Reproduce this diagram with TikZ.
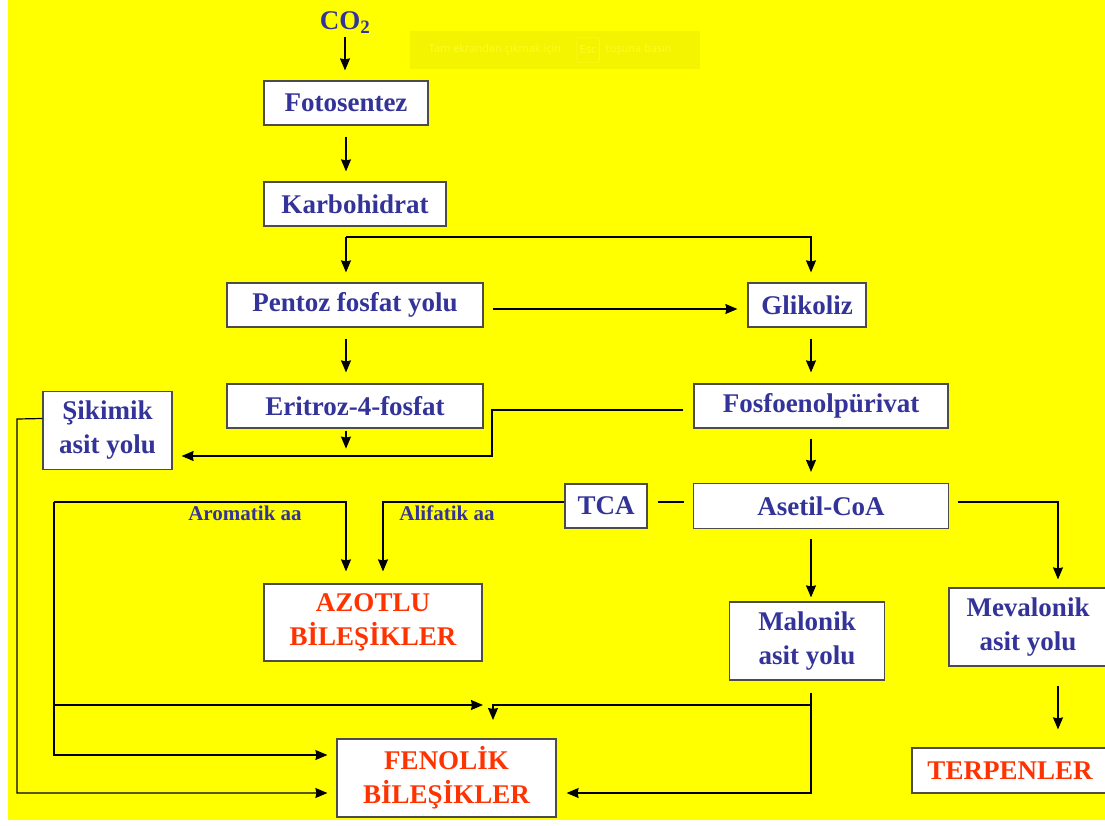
\documentclass[tikz,border=0pt]{standalone}
\usepackage{fontspec}
\setmainfont{Liberation Serif}
\newfontfamily\escfont{Open Sans}
\usepackage{xcolor}
\usepackage{tikz}
\usetikzlibrary{arrows.meta, positioning}
\definecolor{bgyellow}{RGB}{255,255,0}
\definecolor{textblue}{RGB}{51,51,153}
\definecolor{textred}{RGB}{255,51,0}
\definecolor{escfill}{RGB}{244,244,0}
\definecolor{esctext}{RGB}{252,252,40}
\tikzset{
    box/.style={rectangle, draw=black!70, line width=1.2pt, fill=white, text centered, align=center, inner sep=0pt, font=\bfseries\fontsize{27}{34}\selectfont, text=textblue},
    endbox/.style={box, text=textred},
    source/.style={inner sep=0pt, font=\bfseries\fontsize{27}{33}\selectfont, text=textblue},
    tag/.style={inner sep=0pt, font=\bfseries\fontsize{21}{24}\selectfont, text=textblue},
    flow/.style={-{Stealth[length=12pt, width=10pt, inset=1pt]}, line width=1.2pt},
    link/.style={line width=1.2pt}
}

\begin{document}
\begin{tikzpicture}[x=1pt, y=-1pt]
    % Page
    \fill[white] (0,0) rectangle (1105,825);
    \fill[bgyellow] (8,0) rectangle (1105,820);
    \useasboundingbox (0,0) rectangle (1105,825);

    % Screen overlay
    \node[fill=escfill, minimum width=290pt, minimum height=38pt, inner sep=0pt] (escbar) at (555,50) {};
    \node[inner sep=0pt, text=esctext, font=\escfont\fontsize{11}{13}\selectfont] (esctext) at (495,50) {Tam ekrandan çıkmak için};
    \node[draw=esctext, rounded corners=2pt, inner sep=3pt, text=esctext, font=\escfont\fontsize{11}{13}\selectfont, minimum height=25pt] (esckey) at (588,50) {Esc};
    \node[inner sep=0pt, text=esctext, font=\escfont\fontsize{11}{13}\selectfont, right=6pt of esckey] (escrest) {tuşuna basın};

    % Main chain
    \node[source] (co2) at (345,23) {CO\textsubscript{2}};
    \node[box, minimum width=164pt, minimum height=44pt] (foto) at (346,103) {Fotosentez};
    \node[box, minimum width=182pt, minimum height=44pt] (karbo) at (355,204) {Karbohidrat};
    \node[box, minimum width=256pt, minimum height=44pt] (pentoz) at (355,305) {Pentoz fosfat yolu};
    \node[box, minimum width=118pt, minimum height=44pt] (glikoliz) at (807,305) {Glikoliz};
    \node[box, minimum width=256pt, minimum height=44pt] (eritroz) at (355,406) {Eritroz-4-fosfat};
    \node[box, minimum width=254pt, minimum height=44pt] (fosfo) at (821,406) {Fosfoenolpürivat};
    \node[box, minimum width=129pt, minimum height=78pt] (sikimik) at (107.5,430.5) {Şikimik\\asit yolu};
    \node[box, minimum width=82pt, minimum height=44pt] (tca) at (606,506) {TCA};
    \node[box, minimum width=255pt, minimum height=45pt] (asetil) at (821,506) {Asetil-CoA};
    \node[box, minimum width=155pt, minimum height=78pt] (malonik) at (807,641) {Malonik\\asit yolu};
    \node[box, minimum width=158pt, minimum height=78pt] (mevalonik) at (1028,627) {Mevalonik\\asit yolu};

    % Products
    \node[endbox, minimum width=218pt, minimum height=77pt] (azotlu) at (373,622.5) {AZOTLU\\BİLEŞİKLER};
    \node[endbox, minimum width=219pt, minimum height=78pt] (fenolik) at (446.5,778) {FENOLİK\\BİLEŞİKLER};
    \node[endbox, minimum width=196pt, minimum height=45pt] (terpen) at (1010,770.5) {TERPENLER};

    % Labels
    \node[tag] (aromatik) at (245,513) {Aromatik aa};
    \node[tag] (alifatik) at (447,513) {Alifatik aa};

    % Helper coordinates
    \coordinate (colL) at (346,0);
    \coordinate (colR) at (811,0);
    \coordinate (colM) at (1058,0);
    \coordinate (colA) at (383,0);
    \coordinate (split) at (346,237);
    \coordinate (bendS) at (492,456);
    \coordinate (aroL) at (54,502);
    \coordinate (farL) at (17,419);
    \coordinate (farLow) at (17,793);
    \coordinate (meet) at (493,705);
    \coordinate (meetdown) at (493,720);

    % Upper flows
    \draw[flow, shorten <=3pt, shorten >=10pt] (co2) -- (co2 |- foto.north);
    \draw[flow, shorten <=11pt, shorten >=10pt] (colL |- foto.south) -- (colL |- karbo.north);
    \draw[flow, shorten >=10pt] (split) -- (split |- pentoz.north);
    \draw[flow, shorten >=10pt] (split) -| (colR |- glikoliz.north);
    \draw[flow, shorten <=9pt, shorten >=10pt] ([yshift=-4pt]pentoz.east) -- ([yshift=-4pt]glikoliz.west);
    \draw[flow, shorten <=11pt, shorten >=11pt] (colL |- pentoz.south) -- (colL |- eritroz.north);
    \draw[flow, shorten <=11pt, shorten >=11pt] (colR |- glikoliz.south) -- (colR |- fosfo.north);

    % Shikimate branch
    \draw[flow] ([yshift=-2pt]colL |- eritroz.south) -- ++(0,18);
    \draw[flow, shorten <=10pt, shorten >=9pt] ([yshift=-4pt]fosfo.west) -| (bendS) -- (bendS -| sikimik.east);
    \draw[flow, shorten <=10pt, shorten >=11pt] (colR |- fosfo.south) -- (colR |- asetil.north);

    % Acetyl-CoA branches
    \draw[link, shorten <=10pt, shorten >=9pt] ([yshift=4pt]tca.east) -- ([yshift=4pt]asetil.west);
    \draw[flow, shorten >=12pt] ([yshift=4pt]tca.west) -| (colA |- azotlu.north);
    \draw[flow, shorten <=10pt, shorten >=4pt] (colR |- asetil.south) -- (colR |- malonik.north);
    \draw[flow, shorten <=9pt, shorten >=8pt] ([yshift=4pt]asetil.east) -| (colM |- mevalonik.north);
    \draw[flow, shorten <=19pt, shorten >=18pt] (colM |- mevalonik.south) -- (colM |- terpen.north);

    % Aromatic branch
    \draw[flow, shorten >=12pt] (aroL) -| (colL |- azotlu.north);
    \draw[flow, shorten >=9pt] (aroL) |- ([yshift=23pt]fenolik.west);
    \draw[flow, shorten >=10pt] (aroL |- meet) -- (meet);

    % Phenolic inputs
    \draw[flow, shorten >=9pt] ([yshift=12pt]sikimik.west) -- (farL) -- (farLow) -- (farLow -| fenolik.west);
    \draw[flow, shorten <=12pt, shorten >=10pt] (colR |- malonik.south) |- ([yshift=-15pt]fenolik.east);
    \draw[flow] (colR |- meet) -| (meetdown);
\end{tikzpicture}
\end{document}
